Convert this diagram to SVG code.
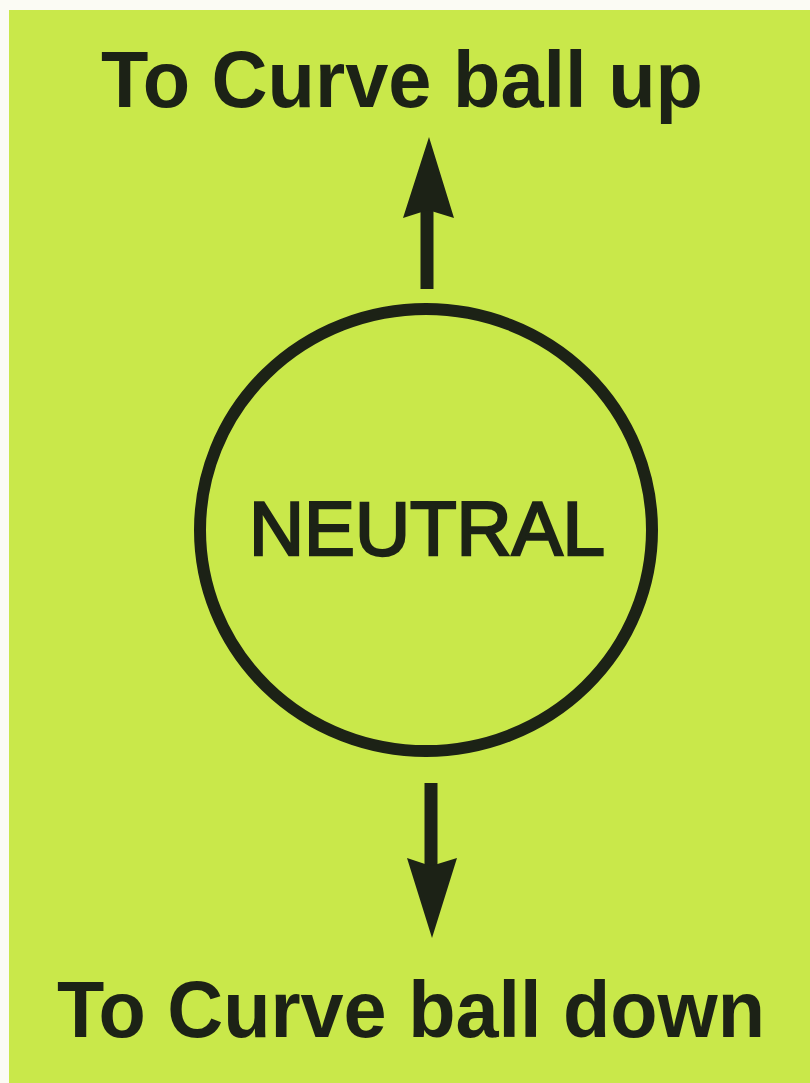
<svg xmlns="http://www.w3.org/2000/svg" width="810" height="1083" viewBox="0 0 810 1083">
<style>
.bg{fill:#c9e84a}
.lbl{font-family:"Liberation Sans",Arial,sans-serif;font-weight:bold;font-size:80px;fill:#1c2216;text-anchor:middle}
.node{fill:none;stroke:#1c2216;stroke-width:12}
.ntxt{font-family:"Liberation Sans",Arial,sans-serif;font-size:76px;fill:#1c2216;stroke:#1c2216;stroke-width:2.5;text-anchor:middle}
.shaft{stroke:#1c2216;stroke-width:13;fill:none}
.head{fill:#1c2216}
</style>
<rect x="0" y="0" width="810" height="1083" fill="#fbfbf4"/>
<rect class="bg" x="9" y="10" width="801" height="1073"/>
<g id="label-up">
<text class="lbl" x="402" y="107" textLength="602" lengthAdjust="spacingAndGlyphs">To Curve ball up</text>
</g>
<g id="neutral">
<ellipse class="node" cx="426" cy="530" rx="226" ry="221"/>
<text class="ntxt" x="427" y="555" textLength="356" lengthAdjust="spacingAndGlyphs">NEUTRAL</text>
</g>
<g id="label-down">
<text class="lbl" x="411" y="1037" textLength="708" lengthAdjust="spacingAndGlyphs">To Curve ball down</text>
</g>
<g id="connectors">
<line class="shaft" x1="427" y1="289" x2="427" y2="205"/>
<path class="head" d="M429,137 L454,218 L428,210 L403,218 Z"/>
<line class="shaft" x1="431" y1="783" x2="431" y2="870"/>
<path class="head" d="M432,938 L457,858 L431,866 L407,858 Z"/>
</g>
</svg>
